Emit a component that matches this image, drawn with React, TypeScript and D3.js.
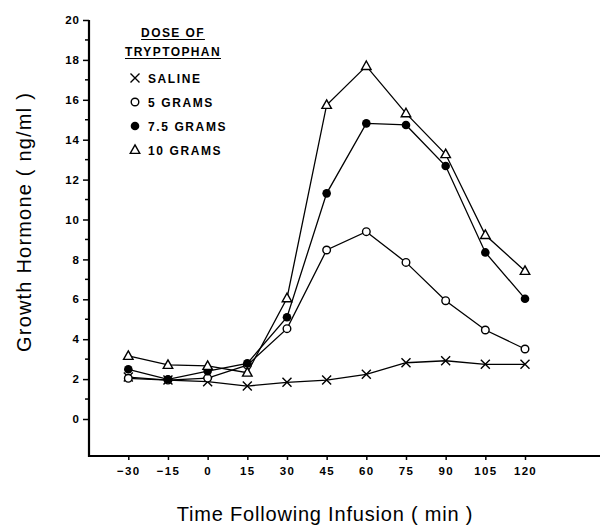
import React, { useRef, useEffect } from 'react'
import * as d3 from 'd3'

const times = [-30, -15, 0, 15, 30, 45, 60, 75, 90, 105, 120]
const saline = [2.1, 1.95, 1.87, 1.65, 1.84, 1.95, 2.24, 2.82, 2.92, 2.74, 2.74]
const grams5 = [2.04, 1.95, 2.05, 2.7, 4.53, 8.47, 9.39, 7.85, 5.93, 4.46, 3.51]
const grams75 = [2.49, 1.99, 2.4, 2.79, 5.1, 11.31, 14.82, 14.74, 12.68, 8.35, 6.03]
const grams10 = [3.16, 2.71, 2.66, 2.32, 6.05, 15.74, 17.69, 15.32, 13.27, 9.22, 7.42]
const yMajor = [0, 2, 4, 6, 8, 10, 12, 14, 16, 18, 20]
const yMinor = [1, 3, 5, 7, 9, 11, 13, 15, 17, 19]
const legendTitle = ['DOSE OF', 'TRYPTOPHAN']
const seriesNames = ['SALINE', '5 GRAMS', '7.5 GRAMS', '10 GRAMS']
const xTitle = 'Time Following Infusion ( min )'
const yTitle = 'Growth Hormone ( ng/ml )'

const series = [
    { name: seriesNames[0], values: saline, marker: 'x' },
    { name: seriesNames[1], values: grams5, marker: 'open' },
    { name: seriesNames[2], values: grams75, marker: 'filled' },
    { name: seriesNames[3], values: grams10, marker: 'tri' },
]

const font = "'Liberation Sans', Arial, sans-serif"

function drawMarker(g, type, cx, cy) {
    if (type === 'x') {
        const s = 4.5
        g.append('path')
            .attr('d', `M${cx - s},${cy - s}L${cx + s},${cy + s}M${cx + s},${cy - s}L${cx - s},${cy + s}`)
            .attr('stroke', '#000').attr('stroke-width', 1.4).attr('fill', 'none')
    } else if (type === 'open') {
        g.append('circle').attr('cx', cx).attr('cy', cy).attr('r', 3.8)
            .attr('fill', '#fff').attr('stroke', '#000').attr('stroke-width', 1.4)
    } else if (type === 'filled') {
        g.append('circle').attr('cx', cx).attr('cy', cy).attr('r', 4.3)
            .attr('fill', '#000')
    } else {
        const h = 8.5, w = 9.5
        g.append('path')
            .attr('d', `M${cx},${cy - h * 0.6}L${cx + w / 2},${cy + h * 0.4}L${cx - w / 2},${cy + h * 0.4}Z`)
            .attr('fill', '#fff').attr('stroke', '#000').attr('stroke-width', 1.4)
    }
}

const App = () => {
    const chartRef = useRef(null)

    useEffect(() => {
        document.body.style.margin = '0'
        const svg = d3.select(chartRef.current)
        svg.selectAll('*').remove()

        const x = d3.scaleLinear().domain([-30, 120]).range([128.3, 525])
        const y = d3.scaleLinear().domain([0, 20]).range([419, 20])
        const axisX = 89
        const axisY = 456

        // y axis
        const ya = svg.append('g')
            .attr('transform', `translate(${axisX},0)`)
            .call(d3.axisLeft(y).tickValues(yMajor).tickSize(6).tickPadding(3).tickFormat(d3.format('d')))
        ya.select('.domain').remove()
        ya.selectAll('line').attr('stroke-width', 1.5)
        ya.selectAll('text').attr('font-family', font).attr('font-weight', 'bold')
            .attr('font-size', 11.5).attr('letter-spacing', 1)
        svg.append('g').selectAll('line').data(yMinor).join('line')
            .attr('x1', axisX - 4).attr('x2', axisX)
            .attr('y1', d => y(d)).attr('y2', d => y(d))
            .attr('stroke', '#000').attr('stroke-width', 1.5)
        svg.append('line').attr('x1', axisX).attr('x2', axisX)
            .attr('y1', y(20)).attr('y2', axisY + 1)
            .attr('stroke', '#000').attr('stroke-width', 2.2)

        // x axis
        const xa = svg.append('g')
            .attr('transform', `translate(0,${axisY})`)
            .call(d3.axisBottom(x).tickValues(times).tickSize(4).tickPadding(7)
                .tickFormat(d => (d < 0 ? '\u2212' + Math.abs(d) : String(d))))
        xa.select('.domain').remove()
        xa.selectAll('line').attr('stroke-width', 1.5)
        xa.selectAll('text').attr('font-family', font).attr('font-weight', 'bold')
            .attr('font-size', 11.5).attr('letter-spacing', 1.3)
        svg.append('line').attr('x1', axisX - 1).attr('x2', 600)
            .attr('y1', axisY).attr('y2', axisY)
            .attr('stroke', '#000').attr('stroke-width', 2.2)

        // titles
        svg.append('text').attr('x', 325).attr('y', 521).attr('text-anchor', 'middle')
            .attr('font-family', font).attr('font-size', 20).attr('letter-spacing', 0.8).text(xTitle)
        svg.append('text').attr('transform', 'translate(31,222) rotate(-90)')
            .attr('text-anchor', 'middle').attr('font-family', font).attr('font-size', 20)
            .attr('letter-spacing', 1.2).text(yTitle)

        // series
        const line = d3.line().x((d, i) => x(times[i])).y(d => y(d))
        series.forEach(s => {
            svg.append('path').datum(s.values).attr('d', line)
                .attr('fill', 'none').attr('stroke', '#000').attr('stroke-width', 1.3)
        })
        series.forEach(s => {
            const g = svg.append('g')
            s.values.forEach((v, i) => drawMarker(g, s.marker, x(times[i]), y(v)))
        })

        // legend
        legendTitle.forEach((t, i) => {
            const ty = 37 + i * 19
            const txt = svg.append('text').attr('x', 173).attr('y', ty).attr('text-anchor', 'middle')
                .attr('font-family', font).attr('font-weight', 'bold').attr('font-size', 12)
                .attr('letter-spacing', 1.4).text(t)
            const w = txt.node().getComputedTextLength()
            svg.append('line').attr('x1', 173 - w / 2).attr('x2', 173 + w / 2)
                .attr('y1', ty + 2.5).attr('y2', ty + 2.5).attr('stroke', '#000').attr('stroke-width', 1)
        })
        series.forEach((s, i) => {
            const cy = 78 + i * 24
            const g = svg.append('g')
            drawMarker(g, s.marker, 135, cy)
            svg.append('text').attr('x', 148).attr('y', cy + 4.5)
                .attr('font-family', font).attr('font-weight', 'bold').attr('font-size', 12)
                .attr('letter-spacing', 1.6).text(s.name)
        })
    }, [])

    return <svg ref={chartRef} width={603} height={525} style={{ display: 'block', background: '#fff' }}></svg>
}

export default App
